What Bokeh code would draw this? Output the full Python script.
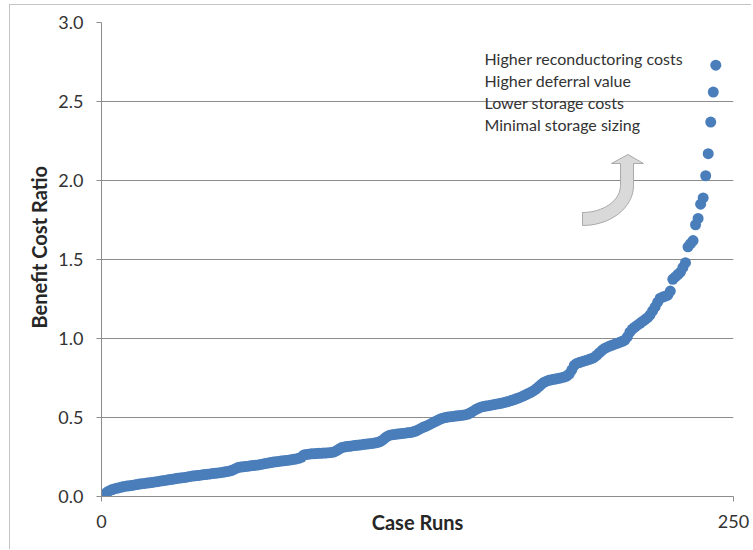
import numpy as np
from math import pi
from bokeh.plotting import figure
from bokeh.models import Range1d, FixedTicker, PrintfTickFormatter, Label, Title
from bokeh.embed import file_html
from bokeh.resources import INLINE

# ---- data ----
case_runs = list(range(1, 244))
bcr = [
    0.010, 0.025, 0.035, 0.042, 0.048, 0.052, 0.056, 0.060, 0.064, 0.066,
    0.068, 0.070, 0.073, 0.076, 0.079, 0.081, 0.083, 0.085, 0.087, 0.089,
    0.092, 0.094, 0.097, 0.099, 0.102, 0.104, 0.107, 0.109, 0.112, 0.115,
    0.117, 0.119, 0.121, 0.124, 0.127, 0.129, 0.131, 0.133, 0.135, 0.137,
    0.139, 0.141, 0.143, 0.145, 0.147, 0.149, 0.151, 0.153, 0.156, 0.159,
    0.163, 0.168, 0.176, 0.183, 0.186, 0.188, 0.190, 0.192, 0.194, 0.196,
    0.198, 0.200, 0.203, 0.206, 0.209, 0.212, 0.215, 0.218, 0.220, 0.222,
    0.224, 0.226, 0.228, 0.230, 0.232, 0.235, 0.238, 0.242, 0.248, 0.262,
    0.266, 0.268, 0.270, 0.271, 0.272, 0.273, 0.274, 0.275, 0.276, 0.277,
    0.279, 0.282, 0.290, 0.300, 0.310, 0.313, 0.316, 0.318, 0.320, 0.322,
    0.324, 0.326, 0.328, 0.330, 0.332, 0.334, 0.336, 0.338, 0.341, 0.346,
    0.355, 0.368, 0.380, 0.388, 0.391, 0.393, 0.395, 0.397, 0.399, 0.401,
    0.403, 0.405, 0.408, 0.413, 0.420, 0.428, 0.436, 0.443, 0.450, 0.458,
    0.466, 0.474, 0.482, 0.490, 0.496, 0.500, 0.503, 0.505, 0.507, 0.509,
    0.511, 0.513, 0.515, 0.518, 0.522, 0.530, 0.540, 0.550, 0.558, 0.565,
    0.569, 0.572, 0.575, 0.578, 0.581, 0.584, 0.587, 0.590, 0.594, 0.598,
    0.602, 0.607, 0.612, 0.618, 0.624, 0.630, 0.637, 0.645, 0.653, 0.661,
    0.670, 0.682, 0.696, 0.710, 0.722, 0.730, 0.735, 0.739, 0.742, 0.745,
    0.748, 0.752, 0.756, 0.762, 0.775, 0.800, 0.830, 0.842, 0.848, 0.853,
    0.858, 0.863, 0.868, 0.874, 0.882, 0.895, 0.910, 0.925, 0.937, 0.945,
    0.952, 0.958, 0.964, 0.970, 0.976, 0.982, 0.990, 1.010, 1.040, 1.060,
    1.072, 1.084, 1.096, 1.108, 1.120, 1.132, 1.150, 1.175, 1.200, 1.230,
    1.255, 1.262, 1.268, 1.274, 1.300, 1.375, 1.390, 1.405, 1.420, 1.450,
    1.480, 1.580, 1.600, 1.620, 1.720, 1.760, 1.850, 1.890, 2.030, 2.170,
    2.370, 2.560, 2.730,
]
x_ticks = [0, 250]
y_ticks = [0.0, 0.5, 1.0, 1.5, 2.0, 2.5, 3.0]
notes = ["Higher reconductoring costs", "Higher deferral value",
         "Lower storage costs", "Minimal storage sizing"]
x_title = "Case Runs"
y_title = "Benefit Cost Ratio"

# ---- layout ----
OFF_X, OFF_Y = 10, 5          # css margin + 1px border
W, H = 742, 545
BL, BR, BT, BB = 91, 19, 17, 54
X0, X1, Y0, Y1 = 0, 250, 0, 3
FW, FH = W - BL - BR, H - BT - BB

def dx(px):  # page pixel -> data x
    return X0 + (px - OFF_X - BL) / FW * (X1 - X0)

def dy(py):  # page pixel -> data y
    return Y0 + (OFF_Y + BT + FH - py) / FH * (Y1 - Y0)

FONT = "Lato"
GRID = "#8c8c8c"

p = figure(width=W, height=H, output_backend="svg", toolbar_location=None,
           x_range=Range1d(X0, X1), y_range=Range1d(Y0, Y1),
           min_border_left=BL, min_border_right=BR,
           min_border_top=BT, min_border_bottom=BB)
p.outline_line_color = None
p.background_fill_color = "white"
p.border_fill_color = "white"
p.styles = {"margin-left": "9px", "margin-top": "4px",
            "border-left": "1px solid #c4c4c4", "border-top": "1px solid #c4c4c4"}

p.xgrid.visible = False
p.ygrid.ticker = FixedTicker(ticks=y_ticks)
p.ygrid.grid_line_color = GRID
p.ygrid.grid_line_width = 1

for ax in (p.xaxis[0], p.yaxis[0]):
    ax.axis_line_color = GRID
    ax.major_tick_line_color = GRID
    ax.major_tick_in = 0
    ax.major_tick_out = 5
    ax.minor_tick_line_color = None
    ax.major_label_text_font = FONT
    ax.major_label_text_font_size = "18px"
    ax.major_label_text_color = "#333333"

p.xaxis.ticker = FixedTicker(ticks=x_ticks)
p.yaxis.ticker = FixedTicker(ticks=y_ticks)
p.yaxis.formatter = PrintfTickFormatter(format="%.1f")
p.yaxis.major_label_standoff = 13
p.xaxis.major_label_standoff = 13

# x axis title on the tick-label line
p.xaxis.axis_label = x_title
p.xaxis.axis_label_text_font = FONT
p.xaxis.axis_label_text_font_size = "20px"
p.xaxis.axis_label_text_font_style = "bold"
p.xaxis.axis_label_text_color = "#262626"
p.xaxis.axis_label_standoff = -21

# y axis title, shifted up as in the reference
p.add_layout(Title(text=y_title, align="left", offset=168,
                   text_font=FONT, text_font_size="20px",
                   text_font_style="bold", text_color="#262626"), "left")

# points
p.scatter(case_runs, bcr, size=11, fill_color="#4A7EBB", line_color=None)

# curved arrow (decoration)
t = np.linspace(0, pi / 2, 20)
outer = [(582 + 51 * np.sin(a), 185 + 40 * np.cos(a)) for a in t]
inner = [(582 + 38 * np.sin(a), 185 + 27 * np.cos(a)) for a in t[::-1]]
pts = outer + [(633, 163), (643, 163), (627.5, 154), (611, 163), (620, 163)] + inner
p.patch([dx(a) for a, b in pts], [dy(b) for a, b in pts],
        fill_color="#d9d9d9", line_color="#a9a9a9", line_width=1)

# annotation text
for k, s in enumerate(notes):
    p.add_layout(Label(x=dx(484), y=dy(58 + 22 * k), text=s,
                       text_font=FONT, text_font_size="16px",
                       text_color="#333333", text_baseline="middle",
                       text_align="left"))

open("out.html", "w").write(file_html(p, INLINE))
